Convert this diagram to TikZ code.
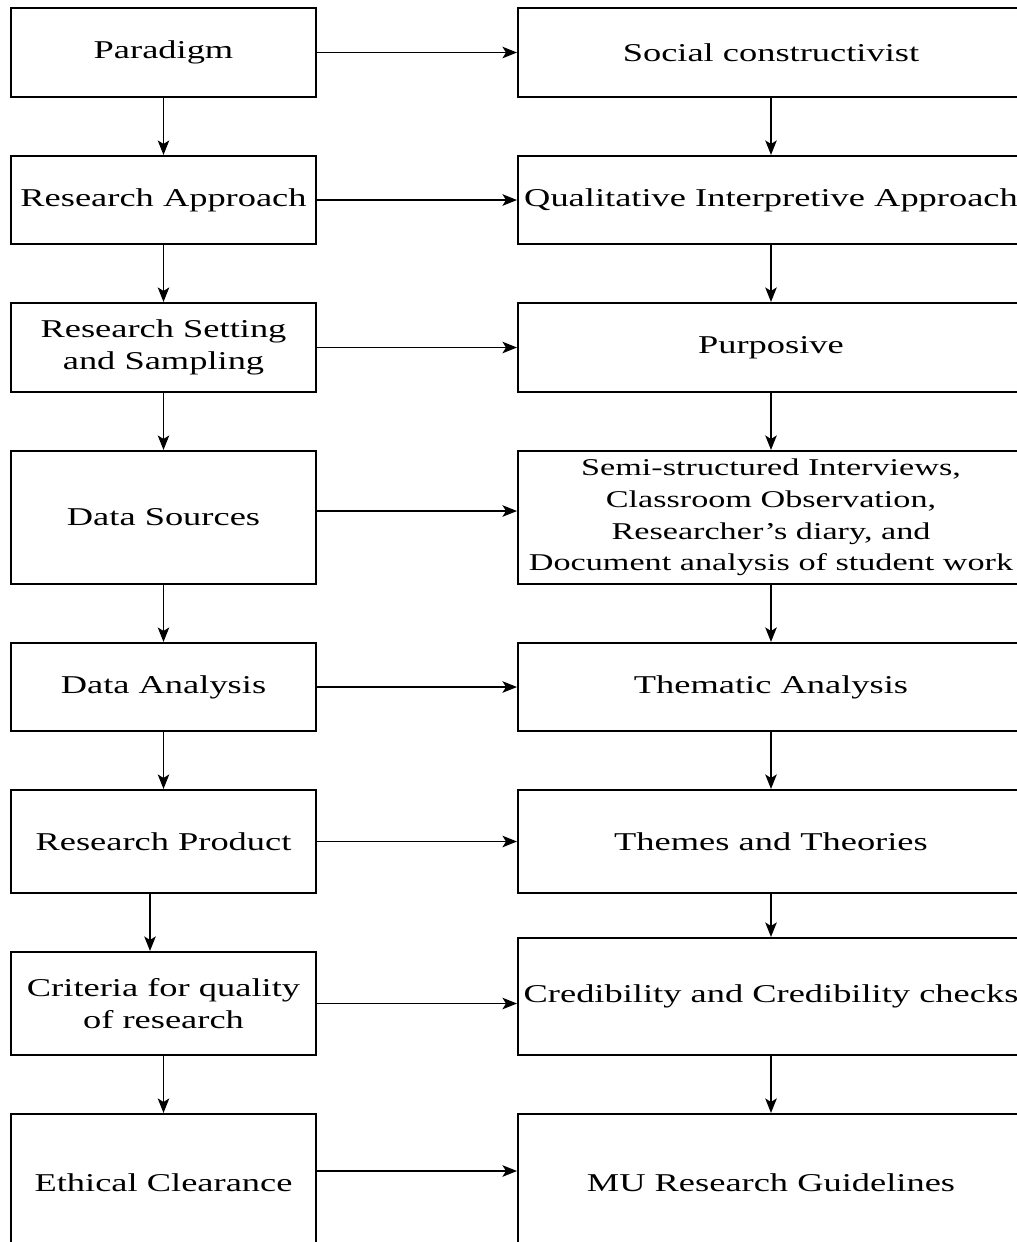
\documentclass[tikz,border=0pt]{standalone}
\usepackage{fontspec}
\setmainfont{Liberation Serif}[FakeStretch=1.42]
\usetikzlibrary{arrows.meta}

\begin{document}
\begin{tikzpicture}[x=0.02cm,y=-0.02cm]
					\tikzset{flow box/.style={draw,rectangle,line width=1.2pt,minimum width=#1,inner sep=2pt,align=center,font=\fontsize{14.6}{18.5}\selectfont}}
					\tikzset{flow arrow/.style={-{Stealth[length=2.9mm,width=2.3mm,inset=0.7mm]},line width=1pt}}
					
					\useasboundingbox (0,0) rectangle (1017,1242);
					\clip (0,0) rectangle (1017,1242);
					
					% left column
					\node [flow box=6.1cm, minimum height=1.78cm] (par) at (163.5,52.5) {Paradigm};
					\node [flow box=6.1cm, minimum height=1.76cm] (appr) at (163.5,200) {Research Approach};
					\node [flow box=6.1cm, minimum height=1.78cm] (sett) at (163.5,347.5) {Research Setting\\and Sampling};
					\node [flow box=6.1cm, minimum height=2.66cm] (src) at (163.5,517.5) {Data Sources};
					\node [flow box=6.1cm, minimum height=1.76cm] (anal) at (163.5,687) {Data Analysis};
					\node [flow box=6.1cm, minimum height=2.06cm] (prod) at (163.5,841.5) {Research Product};
					\node [flow box=6.1cm, minimum height=2.06cm] (crit) at (163.5,1003.5) {Criteria for quality\\of research};
					\node [flow box=6.1cm, minimum height=2.76cm] (eth) at (163.5,1183) {Ethical Clearance};
					
					% right column
					\node [flow box=10.12cm, minimum height=1.78cm] (soc) at (771,52.5) {Social constructivist};
					\node [flow box=10.12cm, minimum height=1.76cm] (qual) at (771,200) {Qualitative Interpretive Approach};
					\node [flow box=10.12cm, minimum height=1.78cm] (purp) at (771,347.5) {Purposive};
					\node [flow box=10.12cm, minimum height=2.66cm, font=\fontsize{13.7}{18}\selectfont] (semi) at (771,517.5) {Semi-structured Interviews,\\Classroom Observation,\\Researcher's diary, and\\Document analysis of student work};
					\node [flow box=10.12cm, minimum height=1.76cm] (them) at (771,687) {Thematic Analysis};
					\node [flow box=10.12cm, minimum height=2.06cm] (theo) at (771,841.5) {Themes and Theories};
					\node [flow box=10.12cm, minimum height=2.34cm] (cred) at (771,996.5) {Credibility and Credibility checks};
					\node [flow box=10.12cm, minimum height=2.76cm] (mu) at (771,1183) {MU Research Guidelines};
					
					% across
					\draw [flow arrow] (par) -- (soc);
					\draw [flow arrow] (appr) -- (qual);
					\draw [flow arrow] (sett) -- (purp);
					\draw [flow arrow] ([yshift=0.13cm]src.east) -- ([yshift=0.13cm]semi.west);
					\draw [flow arrow] (anal) -- (them);
					\draw [flow arrow] (prod) -- (theo);
					\draw [flow arrow] (crit.east) -- (crit.east -| cred.west);
					\draw [flow arrow] ([yshift=0.24cm]eth.east) -- ([yshift=0.24cm]mu.west);
					
					% down
					\draw [flow arrow] (par) -- (appr);
					\draw [flow arrow] (appr) -- (sett);
					\draw [flow arrow] (sett) -- (src);
					\draw [flow arrow] (src) -- (anal);
					\draw [flow arrow] (anal) -- (prod);
					\draw [flow arrow] ([xshift=-0.27cm]prod.south) -- ([xshift=-0.27cm]crit.north);
					\draw [flow arrow] (crit) -- (eth);
					\draw [flow arrow] (soc) -- (qual);
					\draw [flow arrow] (qual) -- (purp);
					\draw [flow arrow] (purp) -- (semi);
					\draw [flow arrow] (semi) -- (them);
					\draw [flow arrow] (them) -- (theo);
					\draw [flow arrow] (theo) -- (cred);
					\draw [flow arrow] (cred) -- (mu);
					\end{tikzpicture}
\end{document}
